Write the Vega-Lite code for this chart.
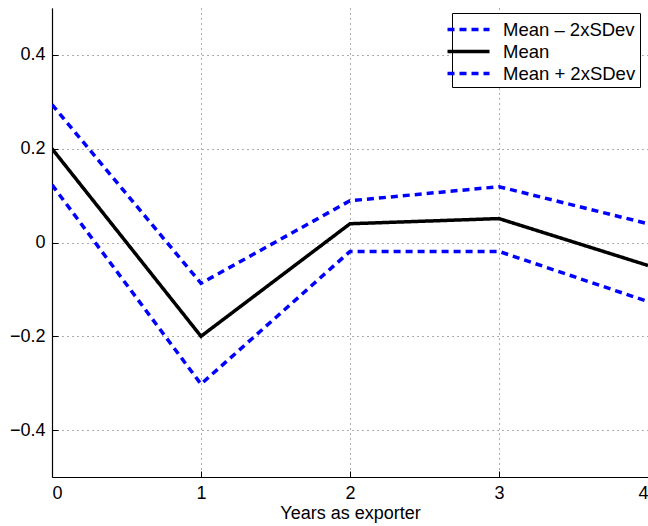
{
  "$schema": "https://vega.github.io/schema/vega-lite/v6.json",
  "width": 596,
  "height": 469,
  "autosize": {"type": "none"},
  "padding": {"left": 52, "top": 8, "right": 0, "bottom": 49},
  "background": "white",
  "config": {
    "font": "Liberation Sans",
    "view": {"stroke": null},
    "axis": {
      "domainColor": "black",
      "domainWidth": 1.2,
      "tickColor": "black",
      "tickSize": -6,
      "labelColor": "black",
      "labelFont": "Liberation Sans",
      "titleFont": "Liberation Sans",
      "titleFontWeight": "normal",
      "titleColor": "black",
      "gridColor": "#333333",
      "gridDash": [1, 4],
      "gridWidth": 1,
      "gridOpacity": 0.8
    }
  },
  "data": {
    "values": [
      {"year": 0, "series": "Mean – 2xSDev", "value": 0.123},
      {"year": 1, "series": "Mean – 2xSDev", "value": -0.302},
      {"year": 2, "series": "Mean – 2xSDev", "value": -0.019},
      {"year": 3, "series": "Mean – 2xSDev", "value": -0.019},
      {"year": 4, "series": "Mean – 2xSDev", "value": -0.126},
      {"year": 0, "series": "Mean", "value": 0.2},
      {"year": 1, "series": "Mean", "value": -0.2},
      {"year": 2, "series": "Mean", "value": 0.04},
      {"year": 3, "series": "Mean", "value": 0.051},
      {"year": 4, "series": "Mean", "value": -0.049},
      {"year": 0, "series": "Mean + 2xSDev", "value": 0.294},
      {"year": 1, "series": "Mean + 2xSDev", "value": -0.087},
      {"year": 2, "series": "Mean + 2xSDev", "value": 0.089},
      {"year": 3, "series": "Mean + 2xSDev", "value": 0.119},
      {"year": 4, "series": "Mean + 2xSDev", "value": 0.04}
    ]
  },
  "mark": {"type": "line", "strokeWidth": 3.5, "clip": true},
  "encoding": {
    "x": {
      "field": "year",
      "type": "quantitative",
      "scale": {"domain": [0, 4], "nice": false, "zero": false},
      "axis": {
        "values": [0, 1, 2, 3, 4],
        "format": "d",
        "title": "Years as exporter",
        "titleFontSize": 18,
        "labelFontSize": 18,
        "titlePadding": 2,
        "labelPadding": 13,
        "grid": true
      }
    },
    "y": {
      "field": "value",
      "type": "quantitative",
      "scale": {"domain": [-0.5, 0.5], "nice": false, "zero": false},
      "axis": {
        "values": [-0.4, -0.2, 0, 0.2, 0.4],
        "labelExpr": "datum.value == 0 ? '0' : format(datum.value, '.1f')",
        "labelFontSize": 18,
        "title": null,
        "labelPadding": 13,
        "grid": true
      }
    },
    "color": {
      "field": "series",
      "type": "nominal",
      "sort": null,
      "scale": {
        "domain": ["Mean – 2xSDev", "Mean", "Mean + 2xSDev"],
        "range": ["#0000ff", "#000000", "#0000ff"]
      },
      "legend": {
        "title": null,
        "orient": "none",
        "legendX": 400,
        "legendY": 5,
        "symbolType": "M-2,0H2",
        "symbolSize": 441,
        "symbolStrokeWidth": 3.5,
        "labelFontSize": 18.5,
        "labelFont": "Liberation Sans",
        "labelColor": "black",
        "rowPadding": 0,
        "padding": 4,
        "strokeColor": "black",
        "fillColor": "white",
        "labelOffset": 22
      }
    },
    "strokeDash": {
      "field": "series",
      "type": "nominal",
      "sort": null,
      "scale": {
        "domain": ["Mean – 2xSDev", "Mean", "Mean + 2xSDev"],
        "range": [[7, 5], [1, 0], [7, 5]]
      },
      "legend": {
        "title": null,
        "orient": "none",
        "legendX": 400,
        "legendY": 5,
        "symbolType": "M-2,0H2",
        "symbolSize": 441,
        "symbolStrokeWidth": 3.5,
        "labelFontSize": 18.5,
        "labelFont": "Liberation Sans",
        "labelColor": "black",
        "rowPadding": 0,
        "padding": 4,
        "strokeColor": "black",
        "fillColor": "white",
        "labelOffset": 22
      }
    }
  }
}
